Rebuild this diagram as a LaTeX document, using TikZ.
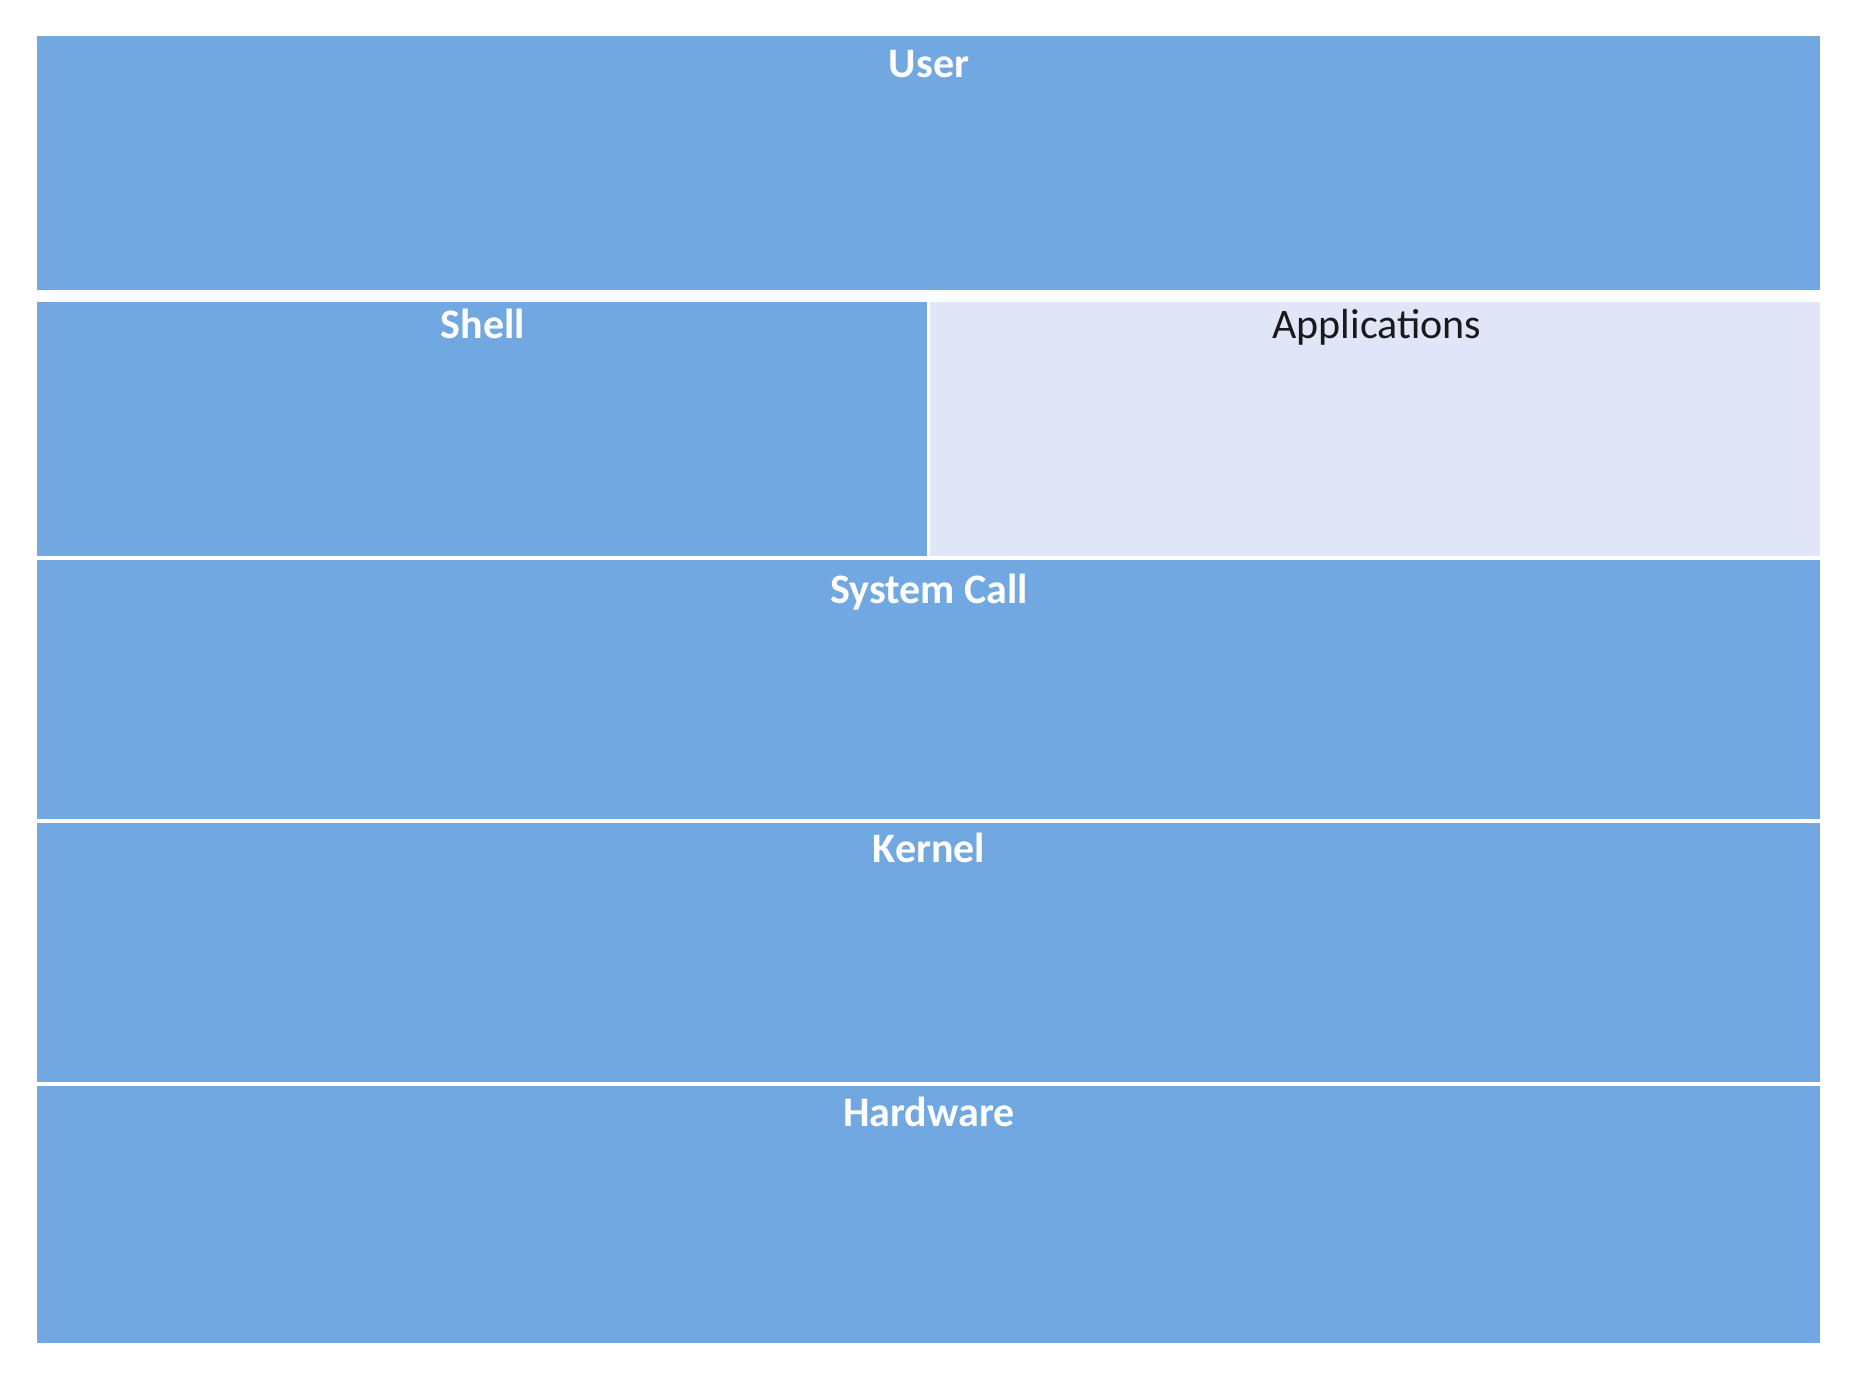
\documentclass[tikz,border=0pt]{standalone}
\usepackage{fontspec}
\setmainfont{Carlito}
\definecolor{layerblue}{HTML}{71A8E1}
\definecolor{applight}{HTML}{E0E6F8}
\begin{document}
\begin{tikzpicture}[x=0.5pt,y=-0.5pt,
  layer/.style={fill=layerblue},
  title/.style={anchor=base,inner sep=0pt,font=\fontsize{21}{25}\selectfont\bfseries,text=white},
  apptitle/.style={anchor=base,inner sep=0pt,font=\fontsize{21}{25}\selectfont,text=black!90}]
\useasboundingbox[fill=white] (0,0) rectangle (1862,1376);
\fill[layer] (37,36) rectangle (1820,290);
\fill[layer] (37,302) rectangle (927,556);
\fill[fill=applight] (930,302) rectangle (1820,556);
\fill[layer] (37,560) rectangle (1820,819);
\fill[layer] (37,823) rectangle (1820,1082);
\fill[layer] (37,1086) rectangle (1820,1343);
\node[title] (user) at (929,77) {User};
\node[title] (shell) at (483,338) {Shell};
\node[apptitle] (apps) at (1377,338) {Applications};
\node[title] (syscall) at (929,603) {System Call};
\node[title] (kernel) at (929,862) {Kernel};
\node[title] (hardware) at (929,1126) {Hardware};
\end{tikzpicture}
\end{document}
